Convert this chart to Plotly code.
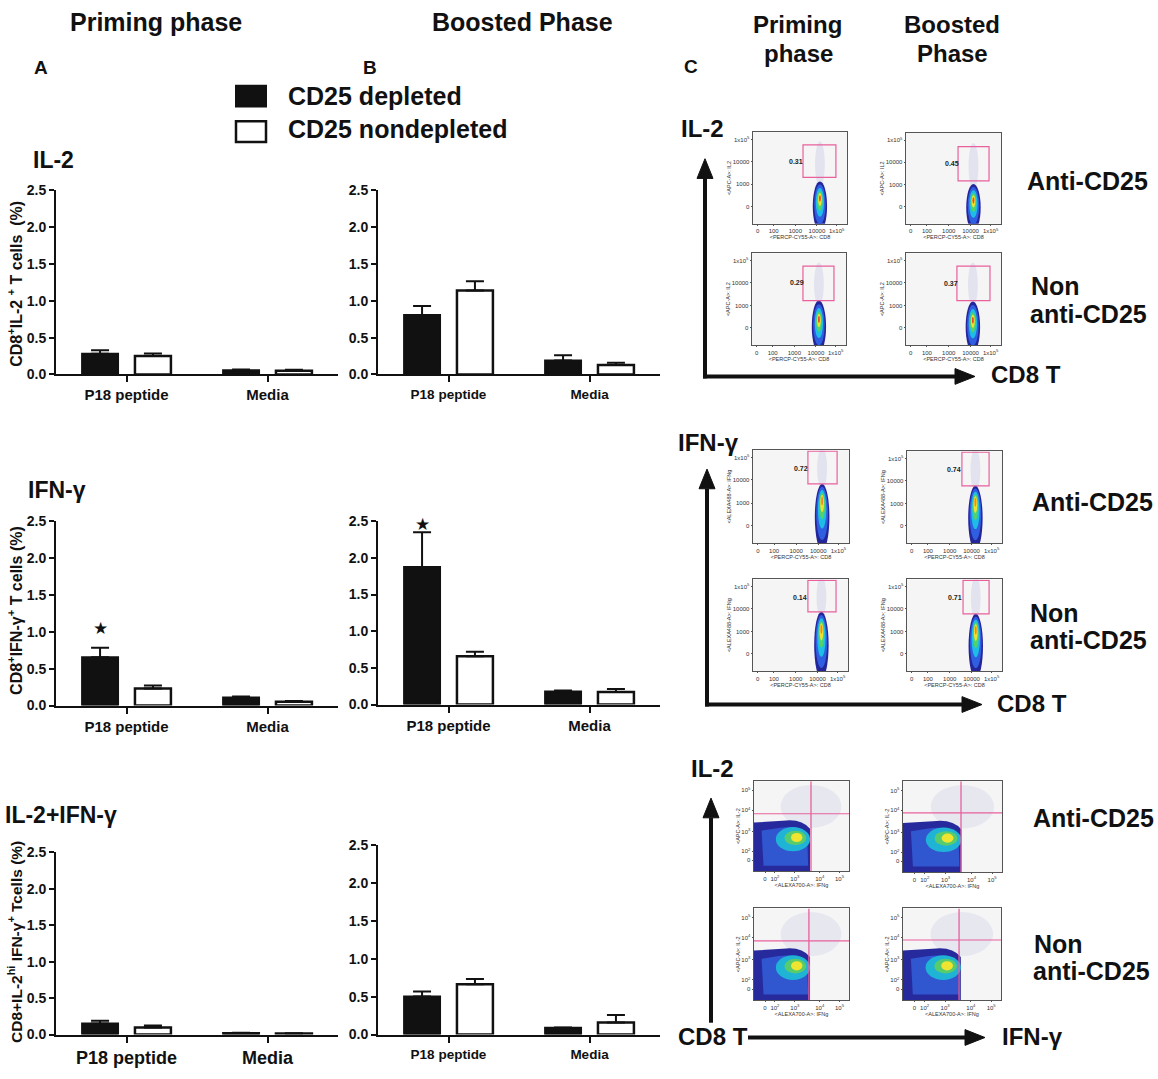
import plotly.graph_objects as go

W, H = 1158, 1079
FONT = "Liberation Sans, Arial, Helvetica, sans-serif"
INK = "#111111"


def fx(x):
    return x / W


def fy(y):
    return 1 - y / H


# ---------------- data (panels A and B) ----------------
categories = ["P18 peptide", "Media"]
group_names = ["CD25 depleted", "CD25 nondepleted"]
y_ticks = [0.0, 0.5, 1.0, 1.5, 2.0, 2.5]
y_tick_text = ["0.0", "0.5", "1.0", "1.5", "2.0", "2.5"]
Y_MAX = 2.5

il2_priming_depleted = [0.28, 0.057]
il2_priming_depleted_sem = [0.05, 0.012]
il2_priming_nondepleted = [0.25, 0.05]
il2_priming_nondepleted_sem = [0.035, 0.013]
il2_boosted_depleted = [0.806, 0.19]
il2_boosted_depleted_sem = [0.124, 0.07]
il2_boosted_nondepleted = [1.14, 0.13]
il2_boosted_nondepleted_sem = [0.126, 0.03]

ifng_priming_depleted = [0.655, 0.11]
ifng_priming_depleted_sem = [0.13, 0.012]
ifng_priming_nondepleted = [0.23, 0.05]
ifng_priming_nondepleted_sem = [0.04, 0.01]
ifng_boosted_depleted = [1.876, 0.178]
ifng_boosted_depleted_sem = [0.474, 0.012]
ifng_boosted_nondepleted = [0.66, 0.17]
ifng_boosted_nondepleted_sem = [0.06, 0.04]

dual_priming_depleted = [0.153, 0.02]
dual_priming_depleted_sem = [0.037, 0.004]
dual_priming_nondepleted = [0.095, 0.015]
dual_priming_nondepleted_sem = [0.03, 0.004]
dual_boosted_depleted = [0.504, 0.09]
dual_boosted_depleted_sem = [0.066, 0.004]
dual_boosted_nondepleted = [0.664, 0.16]
dual_boosted_nondepleted_sem = [0.069, 0.10]

ifng_significance = ["\u2605", ""]
no_significance = ["", ""]

# ---------------- data (panel C gate percentages) ----------------
il2_gate_percent = ["0.31", "0.45", "0.29", "0.37"]
ifng_gate_percent = ["0.72", "0.74", "0.14", "0.71"]

# ---------------- layout constants ----------------
BARGAP = 0.25
BARGROUPGAP = 0.32

bar_panels = [
    dict(n=1, box=(56, 338, 185, 372), dep=il2_priming_depleted, dep_e=il2_priming_depleted_sem,
         non=il2_priming_nondepleted, non_e=il2_priming_nondepleted_sem, sig=no_significance, tick=15),
    dict(n=2, box=(378, 660, 185, 372), dep=il2_boosted_depleted, dep_e=il2_boosted_depleted_sem,
         non=il2_boosted_nondepleted, non_e=il2_boosted_nondepleted_sem, sig=no_significance, tick=13.5),
    dict(n=3, box=(56, 338, 521, 708), dep=ifng_priming_depleted, dep_e=ifng_priming_depleted_sem,
         non=ifng_priming_nondepleted, non_e=ifng_priming_nondepleted_sem, sig=ifng_significance, tick=15),
    dict(n=4, box=(378, 660, 521, 707), dep=ifng_boosted_depleted, dep_e=ifng_boosted_depleted_sem,
         non=ifng_boosted_nondepleted, non_e=ifng_boosted_nondepleted_sem, sig=ifng_significance, tick=15),
    dict(n=5, box=(56, 338, 857, 1042), dep=dual_priming_depleted, dep_e=dual_priming_depleted_sem,
         non=dual_priming_nondepleted, non_e=dual_priming_nondepleted_sem, sig=no_significance, tick=18),
    dict(n=6, box=(378, 660, 850, 1042), dep=dual_boosted_depleted, dep_e=dual_boosted_depleted_sem,
         non=dual_boosted_nondepleted, non_e=dual_boosted_nondepleted_sem, sig=no_significance, tick=13.5),
]

fig = go.Figure()
axes = {}
annotations = []
shapes = []

for p in bar_panels:
    n = p["n"]
    x0, x1, y0, y1 = p["box"]
    xa, ya = f"x{n}", f"y{n}"
    fig.add_trace(go.Bar(
        x=[0, 1], y=p["dep"], xaxis=xa, yaxis=ya, name=group_names[0],
        marker=dict(color=INK, line=dict(color=INK, width=2)),
        error_y=dict(type="data", symmetric=False, array=p["dep_e"], arrayminus=[0, 0],
                     color=INK, thickness=2, width=9),
        showlegend=False, hoverinfo="skip"))
    fig.add_trace(go.Bar(
        x=[0, 1], y=p["non"], xaxis=xa, yaxis=ya, name=group_names[1],
        marker=dict(color="white", line=dict(color=INK, width=2.5)),
        error_y=dict(type="data", symmetric=False, array=p["non_e"], arrayminus=[0, 0],
                     color=INK, thickness=2, width=9),
        showlegend=False, hoverinfo="skip"))
    offs = (1 - BARGAP) / 4
    for i, s in enumerate(p["sig"]):
        if s:
            annotations.append(dict(xref=xa, yref=f"{ya} domain", x=i - offs,
                                    y=(p["dep"][i] + p["dep_e"][i] + 0.27) / Y_MAX,
                                    text=s, showarrow=False,
                                    font=dict(size=17, color=INK, family="DejaVu Sans")))
    axes[f"xaxis{n}"] = dict(
        domain=[fx(x0), fx(x1)], anchor=ya, range=[-0.5, 1.5], tickvals=[0, 1], ticktext=categories,
        showline=True, linewidth=2, linecolor=INK, ticks="outside", ticklen=6, tickwidth=2,
        tickcolor=INK, showgrid=False, zeroline=False,
        tickfont=dict(family=FONT, size=p["tick"], color=INK, weight="bold"))
    axes[f"yaxis{n}"] = dict(
        domain=[fy(y1), fy(y0)], anchor=xa, range=[0, Y_MAX], tickvals=y_ticks, ticktext=y_tick_text,
        showline=True, linewidth=2, linecolor=INK, ticks="outside", ticklen=5, tickwidth=2,
        tickcolor=INK, showgrid=False, zeroline=False,
        tickfont=dict(family=FONT, size=14, color=INK, weight="bold"))

# ---------------- panel C flow plots ----------------
col_x_ticks = [0.25, 1.1, 2.25, 3.4, 4.45]
col_x_text = ["0", "100", "1000", "10000", "1x10<sup>5</sup>"]
col_y_ticks = [0.93, 2.15, 3.4, 4.6]
col_y_text = ["0", "1000", "10000", "1x10<sup>5</sup>"]
quad_x_ticks = [0.58, 1.1, 2.15, 3.46, 4.5]
quad_x_text = ["0", "10<sup>2</sup>", "10<sup>3</sup>", "10<sup>4</sup>", "10<sup>5</sup>"]
quad_y_ticks = [0.6, 1.1, 2.2, 3.4, 4.5]
quad_y_text = ["0", "10<sup>2</sup>", "10<sup>3</sup>", "10<sup>4</sup>", "10<sup>5</sup>"]

CD8_T = "&lt;PERCP-CY55-A&gt;: CD8"
flow_plots = [
    dict(n=7, box=(753, 847, 126, 219), kind="col", gate=(2.66, 4.41, 2.53, 4.30),
         label=(il2_gate_percent[0], 2.29, 3.39), cx=3.56, top=2.31, core_y=1.45, core="#ef4a28",
         xt=CD8_T, yt="&lt;APC-A&gt;: IL2"),
    dict(n=8, box=(906, 1001, 127, 219), kind="col", gate=(2.74, 4.37, 2.37, 4.25),
         label=(il2_gate_percent[1], 2.42, 3.30), cx=3.55, top=2.2, core_y=1.35, core="#ef4a28",
         xt=CD8_T, yt="&lt;APC-A&gt;: IL2"),
    dict(n=9, box=(752, 846, 249, 342), kind="col", gate=(2.71, 4.36, 2.42, 4.30),
         label=(il2_gate_percent[2], 2.39, 3.39), cx=3.56, top=2.42, core_y=1.45, core="#ef4a28",
         xt=CD8_T, yt="&lt;APC-A&gt;: IL2"),
    dict(n=10, box=(906, 1001, 249, 342), kind="col", gate=(2.68, 4.42, 2.42, 4.30),
         label=(il2_gate_percent[3], 2.37, 3.33), cx=3.52, top=2.37, core_y=1.4, core="#ef4a28",
         xt=CD8_T, yt="&lt;APC-A&gt;: IL2"),
    dict(n=11, box=(753, 849, 449, 543), kind="col", gate=(2.86, 4.38, 3.19, 4.95),
         label=(ifng_gate_percent[0], 2.5, 4.04), cx=3.6, top=3.19, core_y=2.4, core="#f08a26",
         xt=CD8_T, yt="&lt;ALEXA488-A&gt;: IFNg"),
    dict(n=12, box=(907, 1002, 450, 543), kind="col", gate=(2.89, 4.32, 3.12, 4.95),
         label=(ifng_gate_percent[1], 2.47, 4.03), cx=3.6, top=3.12, core_y=2.35, core="#f08a26",
         xt=CD8_T, yt="&lt;ALEXA488-A&gt;: IFNg"),
    dict(n=13, box=(753, 848, 580, 673), kind="col", gate=(2.89, 4.37, 3.23, 4.95),
         label=(ifng_gate_percent[2], 2.47, 4.03), cx=3.6, top=3.23, core_y=2.4, core="#f08a26",
         xt=CD8_T, yt="&lt;ALEXA488-A&gt;: IFNg"),
    dict(n=14, box=(907, 1002, 580, 673), kind="col", gate=(2.95, 4.32, 3.12, 4.95),
         label=(ifng_gate_percent[3], 2.53, 4.03), cx=3.62, top=3.12, core_y=2.35, core="#f08a26",
         xt=CD8_T, yt="&lt;ALEXA488-A&gt;: IFNg"),
    dict(n=15, box=(754, 849, 785, 876), kind="quad", lines=(3.0, 3.19),
         xt="&lt;ALEXA700-A&gt;: IFNg", yt="&lt;APC-A&gt;: IL-2"),
    dict(n=16, box=(903, 1002, 785, 877), kind="quad", lines=(2.93, 3.26),
         xt="&lt;ALEXA700-A&gt;: IFNg", yt="&lt;APC-A&gt;: IL-2"),
    dict(n=17, box=(754, 849, 914, 1007), kind="quad", lines=(2.89, 3.23),
         xt="&lt;ALEXA700-A&gt;: IFNg", yt="&lt;APC-A&gt;: IL-2"),
    dict(n=18, box=(903, 1001, 914, 1007), kind="quad", lines=(2.86, 3.28),
         xt="&lt;ALEXA700-A&gt;: IFNg", yt="&lt;APC-A&gt;: IL-2"),
]

GATE_PINK = "#e8609c"
# colour, blend fraction toward the core (0 = whole cloud)
col_layers = [("#25259a", 0.0), ("#2f5fe0", 0.2), ("#1dbde6", 0.42), ("#52d16c", 0.6), ("#f0e030", 0.74)]


def lerp(a, b, t):
    return a + (b - a) * t


for f in flow_plots:
    n = f["n"]
    x0, x1, y0, y1 = f["box"]
    xa, ya = f"x{n}", f"y{n}"
    quad = f["kind"] == "quad"
    axes[f"xaxis{n}"] = dict(
        domain=[fx(x0), fx(x1)], anchor=ya, range=[0, 5], showline=True, mirror=True,
        linewidth=0.8, linecolor="#555", ticks="outside", ticklen=1.5, tickwidth=0.6, tickcolor="#555",
        tickvals=quad_x_ticks if quad else col_x_ticks, ticktext=quad_x_text if quad else col_x_text,
        tickfont=dict(family=FONT, size=6, color="#333"), showgrid=False, zeroline=False,
        title=dict(text=f["xt"], font=dict(family=FONT, size=5.5, color="#333"), standoff=0))
    axes[f"yaxis{n}"] = dict(
        domain=[fy(y1), fy(y0)], anchor=xa, range=[0, 5], showline=True, mirror=True,
        linewidth=0.8, linecolor="#555", ticks="outside", ticklen=1.5, tickwidth=0.6, tickcolor="#555",
        tickvals=quad_y_ticks if quad else col_y_ticks, ticktext=quad_y_text if quad else col_y_text,
        tickfont=dict(family=FONT, size=6, color="#333"), showgrid=False, zeroline=False,
        title=dict(text=f["yt"], font=dict(family=FONT, size=5.5, color="#333"), standoff=0))
    shapes.append(dict(type="rect", xref=f"{xa} domain", yref=f"{ya} domain", x0=0, x1=1, y0=0, y1=1,
                       fillcolor="#f5f5f5", line=dict(width=0), layer="below"))
    if not quad:
        cx, top, cyc = f["cx"], f["top"], f["core_y"]
        gx0, gx1, gy0, gy1 = f["gate"]
        shapes.append(dict(type="circle", xref=xa, yref=ya, x0=cx - 0.26, x1=cx + 0.26,
                           y0=top - 0.3, y1=gy1 + 0.2, fillcolor="rgba(60,50,190,0.09)",
                           line=dict(width=0), layer="above"))
        for color, t in col_layers + [(f["core"], 0.87)]:
            shapes.append(dict(type="circle", xref=xa, yref=ya,
                               x0=cx - lerp(0.38, 0.0, t), x1=cx + lerp(0.38, 0.0, t),
                               y0=lerp(-0.4, cyc, t), y1=lerp(top, cyc, t),
                               fillcolor=color, line=dict(width=0), layer="above"))
        shapes.append(dict(type="rect", xref=xa, yref=ya, x0=gx0, x1=gx1, y0=gy0, y1=gy1,
                           line=dict(color=GATE_PINK, width=1.2), fillcolor="rgba(0,0,0,0)", layer="above"))
        txt, lx, ly = f["label"]
        annotations.append(dict(xref=xa, yref=ya, x=lx, y=ly, text=txt, showarrow=False,
                                font=dict(family=FONT, size=7, color="#222", weight="bold")))
    else:
        shapes.append(dict(type="circle", xref=xa, yref=ya, x0=1.4, x1=4.6, y0=2.4, y1=4.8,
                           fillcolor="rgba(60,50,190,0.07)", line=dict(width=0), layer="above"))
        shapes.append(dict(type="path", xref=xa, yref=ya,
                           path="M 0,0 L 2.95,0 L 2.95,2.35 Q 2.5,2.95 1.5,2.8 L 0,2.7 Z",
                           fillcolor="#262a9c", line=dict(width=0), layer="above"))
        shapes.append(dict(type="path", xref=xa, yref=ya,
                           path="M 0.5,0.3 L 2.85,0.3 L 2.8,2.05 Q 2.3,2.55 1.3,2.4 L 0.4,2.25 Z",
                           fillcolor="#3056d0", line=dict(width=0), layer="above"))
        for color, ex0, ex1, ey0, ey1 in [("#1fb4d6", 1.15, 2.95, 1.1, 2.45),
                                          ("#58cc6c", 1.6, 2.75, 1.45, 2.25),
                                          ("#efe530", 1.95, 2.55, 1.62, 2.12)]:
            shapes.append(dict(type="circle", xref=xa, yref=ya, x0=ex0, x1=ex1, y0=ey0, y1=ey1,
                               fillcolor=color, line=dict(width=0), layer="above"))
        vx, hy = f["lines"]
        shapes.append(dict(type="line", xref=xa, yref=ya, x0=vx, x1=vx, y0=0, y1=5,
                           line=dict(color=GATE_PINK, width=1.3), layer="above"))
        shapes.append(dict(type="line", xref=xa, yref=ya, x0=0, x1=5, y0=hy, y1=hy,
                           line=dict(color=GATE_PINK, width=1.1), layer="above"))


# ---------------- arrows (panel C) ----------------
def arrow(x0, y0, x1, y1, head=20, half=8, width=4):
    if x0 == x1:
        d = -1 if y1 < y0 else 1
        base = y1 - d * head
        shapes.append(dict(type="line", xref="paper", yref="paper", x0=fx(x0), x1=fx(x0),
                           y0=fy(y0), y1=fy(base), line=dict(color=INK, width=width)))
        path = f"M {fx(x1 - half)},{fy(base)} L {fx(x1 + half)},{fy(base)} L {fx(x1)},{fy(y1)} Z"
    else:
        d = 1 if x1 > x0 else -1
        base = x1 - d * head
        shapes.append(dict(type="line", xref="paper", yref="paper", x0=fx(x0), x1=fx(base),
                           y0=fy(y0), y1=fy(y0), line=dict(color=INK, width=width)))
        path = f"M {fx(base)},{fy(y1 - half)} L {fx(base)},{fy(y1 + half)} L {fx(x1)},{fy(y1)} Z"
    shapes.append(dict(type="path", xref="paper", yref="paper", path=path,
                       fillcolor=INK, line=dict(color=INK, width=1)))


arrow(705, 376, 705, 153)
arrow(703, 374, 975, 374)
arrow(707, 709, 707, 468)
arrow(705, 707, 982, 707)
arrow(711, 1030, 711, 802)
arrow(748, 1045, 985, 1045)

# ---------------- legend (drawn) ----------------
shapes.append(dict(type="rect", xref="paper", yref="paper", x0=fx(236), x1=fx(266), y0=fy(100), y1=fy(79),
                   fillcolor=INK, line=dict(color=INK, width=2)))
shapes.append(dict(type="rect", xref="paper", yref="paper", x0=fx(236), x1=fx(266), y0=fy(136), y1=fy(115),
                   fillcolor="white", line=dict(color=INK, width=2.5)))


# ---------------- texts ----------------
def label(text, x, y, size, xanchor="center", bold=True, angle=0, family=FONT):
    annotations.append(dict(xref="paper", yref="paper", x=fx(x), y=fy(y), text=text, showarrow=False,
                            xanchor=xanchor, yanchor="middle", textangle=angle,
                            font=dict(family=family, size=size, color=INK,
                                      weight="bold" if bold else "normal")))


label("Priming phase", 156, 14, 25)
label("Boosted Phase", 522, 14, 25)
label("A", 41, 60, 19)
label("B", 370, 60, 19)
label("C", 691, 59, 19)
label(group_names[0], 286, 89, 25, xanchor="left")
label(group_names[1], 286, 123, 25, xanchor="left")
label("IL-2", 31, 154, 23, xanchor="left")
label("IFN-\u03b3", 26, 489, 23, xanchor="left")
label("IL-2+IFN-\u03b3", 3, 819, 23, xanchor="left")
label("CD8<sup>+</sup>IL-2 <sup>+</sup> T cells  (%)", 15, 280, 16, angle=-90)
label("CD8<sup>+</sup>IFN-\u03b3<sup>+</sup> T cells (%)", 15, 612, 16, angle=-90)
label("CD8+IL-2<sup>hi</sup> IFN-\u03b3<sup>+</sup> Tcells (%)", 15, 948, 15.5, angle=-90)

label("Priming", 797, 17, 24)
label("phase", 798, 46, 24)
label("Boosted", 952, 17, 24)
label("Phase", 952, 46, 24)
label("IL-2", 702, 122, 24)
label("CD8 T", 1026, 372, 24)
label("Anti-CD25", 1087, 176, 25)
label("Non", 1029, 282, 25, xanchor="left")
label("anti-CD25", 1028, 311, 25, xanchor="left")
label("IFN-\u03b3", 708, 441, 24)
label("CD8 T", 1032, 706, 24)
label("Anti-CD25", 1092, 501, 25)
label("Non", 1028, 614, 25, xanchor="left")
label("anti-CD25", 1028, 642, 25, xanchor="left")
label("IL-2", 712, 772, 24)
label("CD8 T", 713, 1044, 24)
label("IFN-\u03b3", 1032, 1044, 24)
label("Anti-CD25", 1093, 822, 25)
label("Non", 1032, 950, 25, xanchor="left")
label("anti-CD25", 1031, 977, 25, xanchor="left")

fig.update_layout(
    width=W, height=H, margin=dict(l=0, r=0, t=0, b=0),
    paper_bgcolor="white", plot_bgcolor="white",
    barmode="group", bargap=BARGAP, bargroupgap=BARGROUPGAP,
    showlegend=False, font=dict(family=FONT, color=INK),
    shapes=shapes, annotations=annotations, **axes)

fig.write_html("out.html", config={"displayModeBar": False},
               post_script="document.body.style.margin='0';")
